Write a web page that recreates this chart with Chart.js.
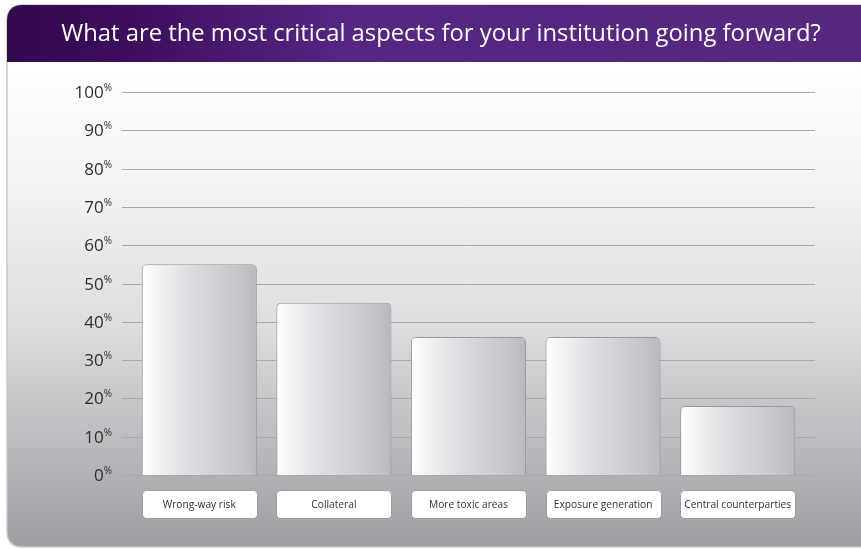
<!DOCTYPE html>
<html>
<head>
<meta charset="utf-8">
<script src="https://cdn.jsdelivr.net/npm/chart.js@4/dist/chart.umd.min.js"></script>
<style>
html,body{margin:0;padding:0;background:#fff;}
#wrap{width:861px;height:549px;}
</style>
</head>
<body>
<div id="wrap"><canvas id="c" width="861" height="549"></canvas></div>
<script>
const title = "What are the most critical aspects for your institution going forward?";
const categories = ["Wrong-way risk", "Collateral", "More toxic areas", "Exposure generation", "Central counterparties"];
const values = [55, 45, 36, 36, 18];
const yTicks = [0, 10, 20, 30, 40, 50, 60, 70, 80, 90, 100];

const BAR_FRAC = 0.855;
const FONT = '"Open Sans", "Noto Sans", sans-serif';

function roundRect(c, x, y, w, h, r) {
  c.beginPath();
  c.moveTo(x + r, y);
  c.lineTo(x + w - r, y);
  c.quadraticCurveTo(x + w, y, x + w, y + r);
  c.lineTo(x + w, y + h - r);
  c.quadraticCurveTo(x + w, y + h, x + w - r, y + h);
  c.lineTo(x + r, y + h);
  c.quadraticCurveTo(x, y + h, x, y + h - r);
  c.lineTo(x, y + r);
  c.quadraticCurveTo(x, y, x + r, y);
  c.closePath();
}

const decor = {
  id: 'decor',
  beforeDraw(chart) {
    const c = chart.ctx;
    const W = chart.width, H = chart.height;
    c.save();
    c.fillStyle = '#ffffff';
    c.fillRect(0, 0, W, H);
    // card
    const cx = 7, cy = 5, cw = W + 20, ch = H - 7, r = 16;
    const bg = c.createLinearGradient(0, 62, 0, H);
    bg.addColorStop(0, '#ffffff');
    bg.addColorStop(0.25, '#f4f4f5');
    bg.addColorStop(0.55, '#dcdcde');
    bg.addColorStop(1, '#9c9ca1');
    roundRect(c, cx, cy, cw, ch, r);
    c.fillStyle = bg;
    c.fill();
    c.lineWidth = 1.5;
    c.strokeStyle = '#c8c8ca';
    c.stroke();
    // header
    c.save();
    roundRect(c, cx, cy, cw, ch, r);
    c.clip();
    const hg = c.createLinearGradient(cx, 0, W, 0);
    hg.addColorStop(0, '#340950');
    hg.addColorStop(0.12, '#3b0c5a');
    hg.addColorStop(0.4, '#552683');
    hg.addColorStop(1, '#56287f');
    c.fillStyle = hg;
    c.fillRect(cx, cy, cw, 57);
    c.restore();
    // title
    c.fillStyle = '#ffffff';
    c.font = '23.8px ' + FONT;
    c.textAlign = 'center';
    c.textBaseline = 'middle';
    c.fillText(title, 441, 34);
    // grid lines from the y scale
    const ys = chart.scales.y, area = chart.chartArea;
    c.strokeStyle = '#a9a9ac';
    c.lineWidth = 1;
    ys.ticks.forEach(t => {
      const y = Math.round(ys.getPixelForValue(t.value)) + 0.5;
      c.beginPath();
      c.moveTo(area.left - 10, y);
      c.lineTo(area.right + 10, y);
      c.stroke();
    });
    // y tick labels
    c.fillStyle = '#2e2e2e';
    c.textBaseline = 'alphabetic';
    ys.ticks.forEach(t => {
      const y = ys.getPixelForValue(t.value);
      c.font = '10px ' + FONT;
      c.textAlign = 'right';
      const pw = c.measureText('%').width;
      c.fillText('%', 112, y - 1);
      c.font = '17px ' + FONT;
      c.fillText(String(t.value), 112 - pw, y + 6);
    });
    c.restore();
  },
  afterDraw(chart) {
    const c = chart.ctx;
    const xs = chart.scales.x;
    const bw = xs.width / chart.data.labels.length * BAR_FRAC;
    c.save();
    chart.data.labels.forEach((lab, i) => {
      const x = xs.getPixelForValue(i);
      const bx = Math.round(x - bw / 2) + 0.5;
      roundRect(c, bx, 490.5, Math.round(bw), 28, 4);
      c.fillStyle = '#ffffff';
      c.fill();
      c.strokeStyle = '#9c9ca0';
      c.lineWidth = 1;
      c.stroke();
      c.fillStyle = '#333333';
      c.font = '10.2px ' + FONT;
      c.textAlign = 'center';
      c.textBaseline = 'middle';
      c.fillText(lab, x, 505);
    });
    c.restore();
  }
};

new Chart(document.getElementById('c'), {
  type: 'bar',
  data: {
    labels: categories,
    datasets: [{
      data: values,
      backgroundColor(ctx) {
        const chart = ctx.chart;
        const xs = chart.scales.x;
        if (!chart.chartArea || !xs) return '#d8d8da';
        const cx = xs.getPixelForValue(ctx.dataIndex);
        const half = xs.width / chart.data.labels.length * BAR_FRAC / 2;
        const g = chart.ctx.createLinearGradient(cx - half, 0, cx + half, 0);
        g.addColorStop(0, '#ffffff');
        g.addColorStop(0.4, '#dddee1');
        g.addColorStop(0.88, '#c3c4c7');
        g.addColorStop(1, '#b8b9bd');
        return g;
      },
      borderColor: '#9a9a9e',
      borderWidth: 1,
      borderSkipped: 'bottom',
      borderRadius: {topLeft: 5, topRight: 5, bottomLeft: 0, bottomRight: 0},
      categoryPercentage: 1,
      barPercentage: BAR_FRAC
    }]
  },
  options: {
    responsive: false,
    animation: false,
    layout: {padding: {top: 92, bottom: 74, left: 132, right: 56}},
    plugins: {legend: {display: false}, tooltip: {enabled: false}},
    scales: {
      x: {display: false},
      y: {
        display: false,
        min: 0, max: 100,
        afterBuildTicks(axis) { axis.ticks = yTicks.map(v => ({value: v})); }
      }
    }
  },
  plugins: [decor]
});
</script>
</body>
</html>
